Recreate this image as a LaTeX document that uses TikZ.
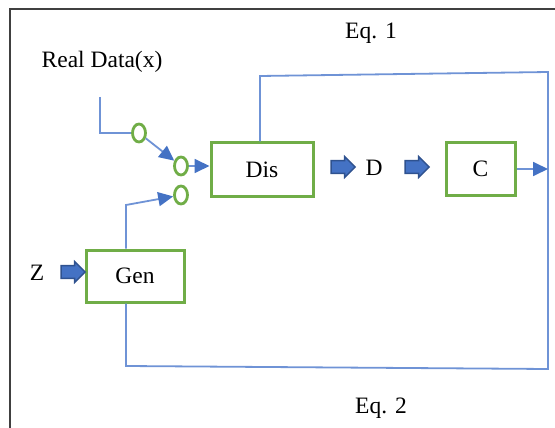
\documentclass[tikz,border=0pt]{standalone}
\usepackage{fontspec}
\setmainfont{Liberation Serif}
\usetikzlibrary{arrows.meta,shapes.geometric,shapes.arrows}
\definecolor{boxgreen}{HTML}{70AD47}
\definecolor{lineblue}{HTML}{6F93D6}
\definecolor{tipblue}{HTML}{4472C4}
\definecolor{arrowedge}{HTML}{2F528F}
\definecolor{framegray}{HTML}{404040}
\begin{document}
\begin{tikzpicture}[x=1pt,y=-1pt,
  gbox/.style={draw=boxgreen,line width=3pt,rectangle,inner sep=0pt,font=\fontsize{23.5}{26}\selectfont},
  gcirc/.style={draw=boxgreen,line width=2.8pt,ellipse,minimum width=13pt,minimum height=18pt,inner sep=0pt},
  lbl/.style={font=\fontsize{23.5}{26}\selectfont,inner sep=0pt},
  conn/.style={draw=lineblue,line width=1.8pt},
  arr/.style={conn,-{Triangle[length=15pt,width=14pt,color=tipblue]}},
  barrow/.style={single arrow,draw=arrowedge,fill=tipblue,line width=1.4pt,minimum height=24pt,minimum width=21pt,single arrow head extend=4pt,inner sep=5.5pt}
]
\useasboundingbox (0,0) rectangle (555,428);
% frame
\draw[framegray,line width=2pt] (10,430) -- (10,9) -- (557,9);
% boxes
\node[gbox,minimum width=102pt,minimum height=53pt] (dis) at (262,169.5) {Dis};
\node[gbox,minimum width=69pt,minimum height=52pt] (c) at (480.5,169) {C};
\node[gbox,minimum width=98pt,minimum height=52pt] (gen) at (135,276) {Gen};
% junction circles
\node[gcirc] (ci1) at (139,133) {};
\node[gcirc] (ci2) at (181,166) {};
\node[gcirc] (ci3) at (181,195) {};
% labels
\node[lbl] (real) at (102,62) {Real Data(x)};
\node[lbl] (eq1) at (371,33) {Eq. 1};
\node[lbl] (eq2) at (381,408) {Eq. 2};
\node[lbl] (z) at (37,273) {Z};
\node[lbl] (d) at (374,168) {D};
% block arrows
\node[barrow] (ba1) at (70,272) {};
\node[barrow] (ba2) at (340,167) {};
\node[barrow] (ba3) at (414,167) {};
% coordinates
\coordinate (rs) at (100,97);
\coordinate (g1) at (126,205);
\coordinate (t1) at (260,76);
\coordinate (t2) at (548,72);
\coordinate (b2) at (548,369);
\coordinate (b1) at (126,366);
% connectors
\draw[conn] (rs) |- (ci1.west);
\draw[arr] (ci1) -- (ci2);
\draw[arr] (ci2.east) -- (ci2.east -| dis.west);
\draw[arr] (g1 |- gen.north) -- (g1) -- (ci3);
\draw[conn] (t1 |- dis.north) -- (t1) -- (t2) -- (b2) -- (b1) -- (b1 |- gen.south);
\draw[arr] (c.east) -- (c.east -| t2);
\end{tikzpicture}
\end{document}
